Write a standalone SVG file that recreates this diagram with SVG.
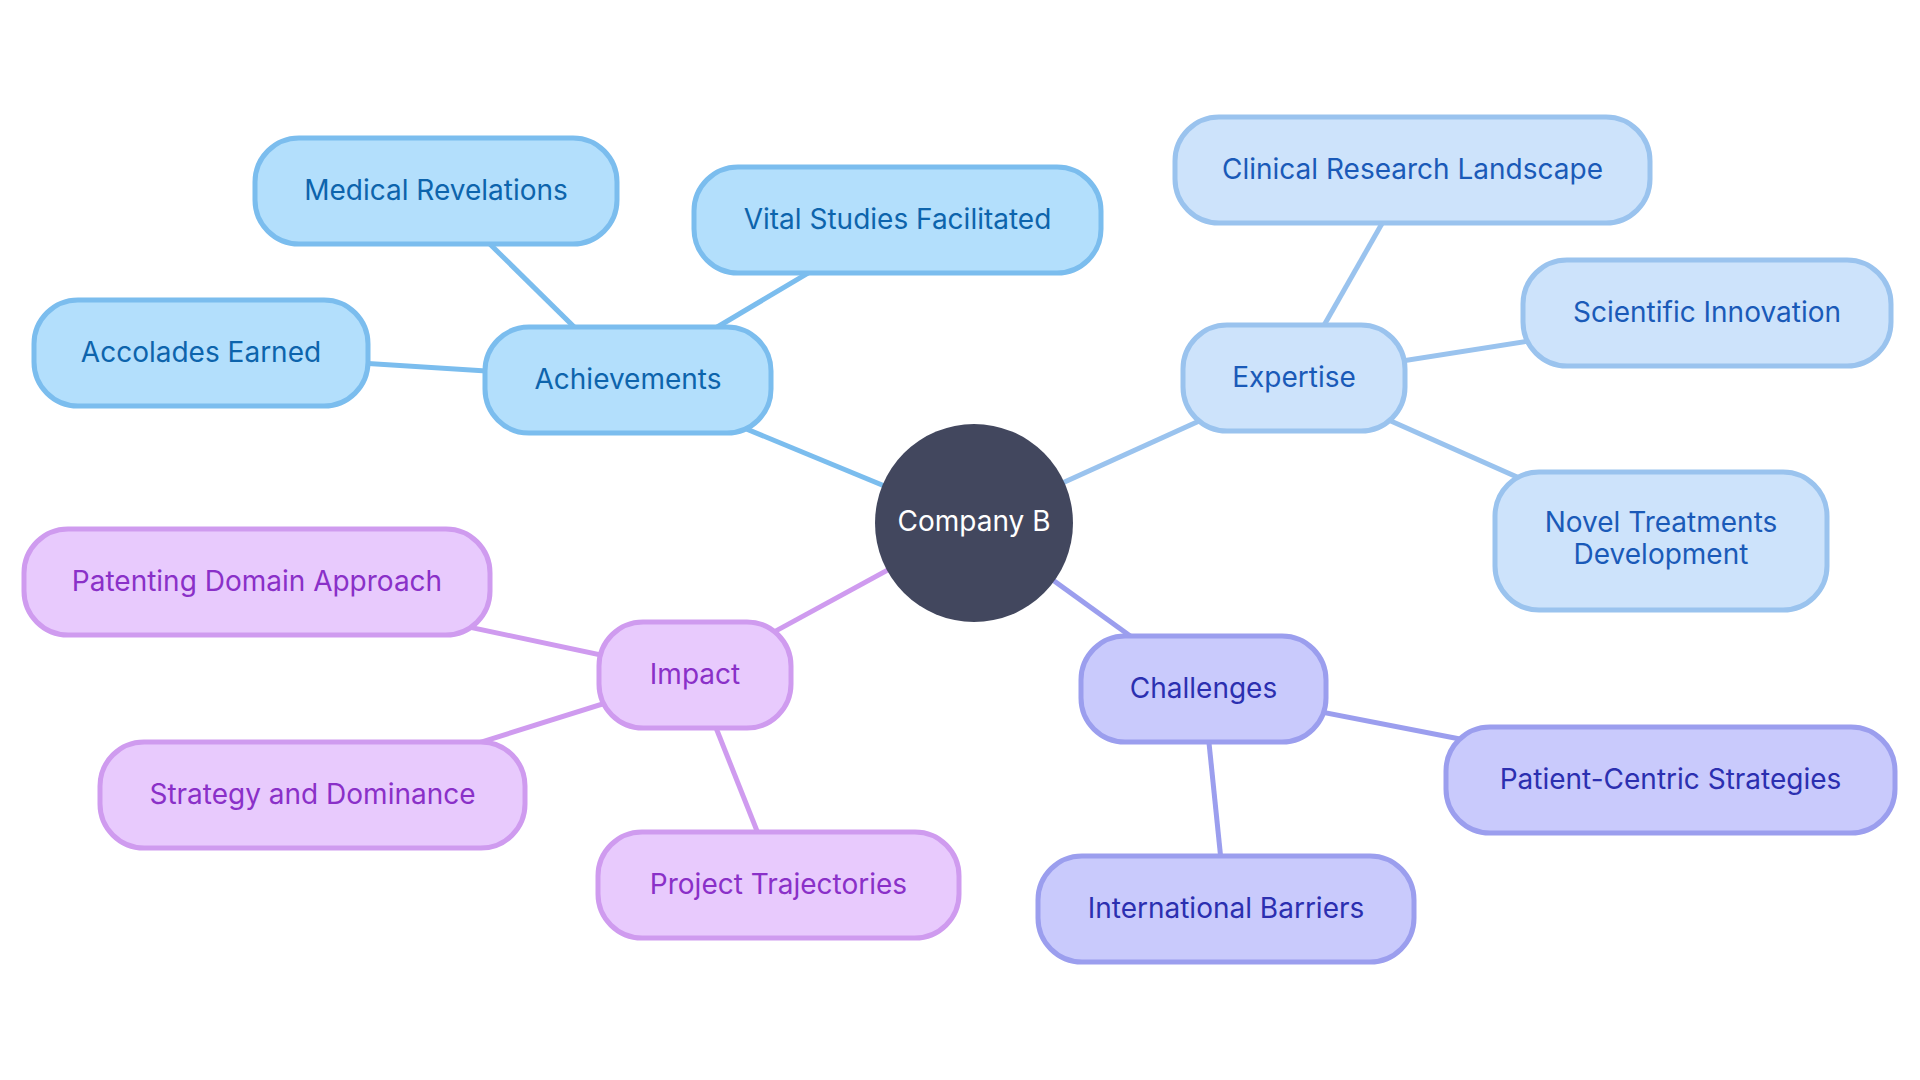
<svg xmlns="http://www.w3.org/2000/svg" width="1920" height="1080" viewBox="0 0 1920 1080">
<style>
text{font-family:Inter,"Noto Sans","Liberation Sans",sans-serif;font-size:28px;text-anchor:middle}
.ach rect{fill:#b3dffc;stroke:#7bbdee;stroke-width:5}
.ach text{fill:#0d64ac}
.exp rect{fill:#cde3fb;stroke:#9ac3ee;stroke-width:5}
.exp text{fill:#1a5ab8}
.cha rect{fill:#c9cafc;stroke:#9b9eee;stroke-width:5}
.cha text{fill:#2b2fb0}
.imp rect{fill:#e8cafd;stroke:#cf9bef;stroke-width:5}
.imp text{fill:#8a30c8}
.c{stroke-width:5;fill:none}
.ca{stroke:#7bbdee}.ce{stroke:#9ac3ee}.cc{stroke:#9b9eee}.ci{stroke:#cf9bef}
</style>
<rect width="1920" height="1080" fill="#ffffff"/>
<g id="connectors">
<line class="c ca" x1="974" y1="523" x2="628" y2="380"/>
<line class="c ca" x1="628" y1="380" x2="436" y2="191"/>
<line class="c ca" x1="628" y1="380" x2="897.5" y2="220"/>
<line class="c ca" x1="628" y1="380" x2="201" y2="353"/>
<line class="c ce" x1="974" y1="523" x2="1294" y2="378"/>
<line class="c ce" x1="1294" y1="378" x2="1412.5" y2="170"/>
<line class="c ce" x1="1294" y1="378" x2="1707" y2="313"/>
<line class="c ce" x1="1294" y1="378" x2="1661" y2="541"/>
<line class="c cc" x1="974" y1="523" x2="1203.5" y2="689"/>
<line class="c cc" x1="1203.5" y1="689" x2="1670.5" y2="780"/>
<line class="c cc" x1="1203.5" y1="689" x2="1226" y2="909"/>
<line class="c ci" x1="974" y1="523" x2="695" y2="675"/>
<line class="c ci" x1="695" y1="675" x2="257" y2="582"/>
<line class="c ci" x1="695" y1="675" x2="312.5" y2="795"/>
<line class="c ci" x1="695" y1="675" x2="778.5" y2="885"/>
</g>
<g id="center">
<circle cx="974" cy="523" r="99" fill="#42475e"/>
<text x="974" y="531" fill="#ffffff">Company B</text>
</g>
<g id="achievements" class="ach"><rect x="485" y="327" width="286" height="106" rx="44"/><text x="628" y="389">Achievements</text></g>
<g id="medical-revelations" class="ach"><rect x="255" y="138" width="362" height="106" rx="44"/><text x="436" y="200">Medical Revelations</text></g>
<g id="vital-studies" class="ach"><rect x="694" y="167" width="407" height="106" rx="44"/><text x="897.5" y="229">Vital Studies Facilitated</text></g>
<g id="accolades" class="ach"><rect x="34" y="300" width="334" height="106" rx="44"/><text x="201" y="362">Accolades Earned</text></g>
<g id="expertise" class="exp"><rect x="1183" y="325" width="222" height="106" rx="44"/><text x="1294" y="387">Expertise</text></g>
<g id="clinical-research" class="exp"><rect x="1175" y="117" width="475" height="106" rx="44"/><text x="1412.5" y="179">Clinical Research Landscape</text></g>
<g id="scientific-innovation" class="exp"><rect x="1523" y="260" width="368" height="106" rx="44"/><text x="1707" y="322">Scientific Innovation</text></g>
<g id="novel-treatments" class="exp"><rect x="1495" y="472" width="332" height="138" rx="44"/><text x="1661" y="532">Novel Treatments</text><text x="1661" y="564">Development</text></g>
<g id="challenges" class="cha"><rect x="1081" y="636" width="245" height="106" rx="44"/><text x="1203.5" y="698">Challenges</text></g>
<g id="patient-centric" class="cha"><rect x="1446" y="727" width="449" height="106" rx="44"/><text x="1670.5" y="789">Patient-Centric Strategies</text></g>
<g id="international-barriers" class="cha"><rect x="1038" y="856" width="376" height="106" rx="44"/><text x="1226" y="918">International Barriers</text></g>
<g id="impact" class="imp"><rect x="599" y="622" width="192" height="106" rx="44"/><text x="695" y="684">Impact</text></g>
<g id="patenting" class="imp"><rect x="24" y="529" width="466" height="106" rx="44"/><text x="257" y="591">Patenting Domain Approach</text></g>
<g id="strategy" class="imp"><rect x="100" y="742" width="425" height="106" rx="44"/><text x="312.5" y="804">Strategy and Dominance</text></g>
<g id="project-trajectories" class="imp"><rect x="598" y="832" width="361" height="106" rx="44"/><text x="778.5" y="894">Project Trajectories</text></g>
</svg>
